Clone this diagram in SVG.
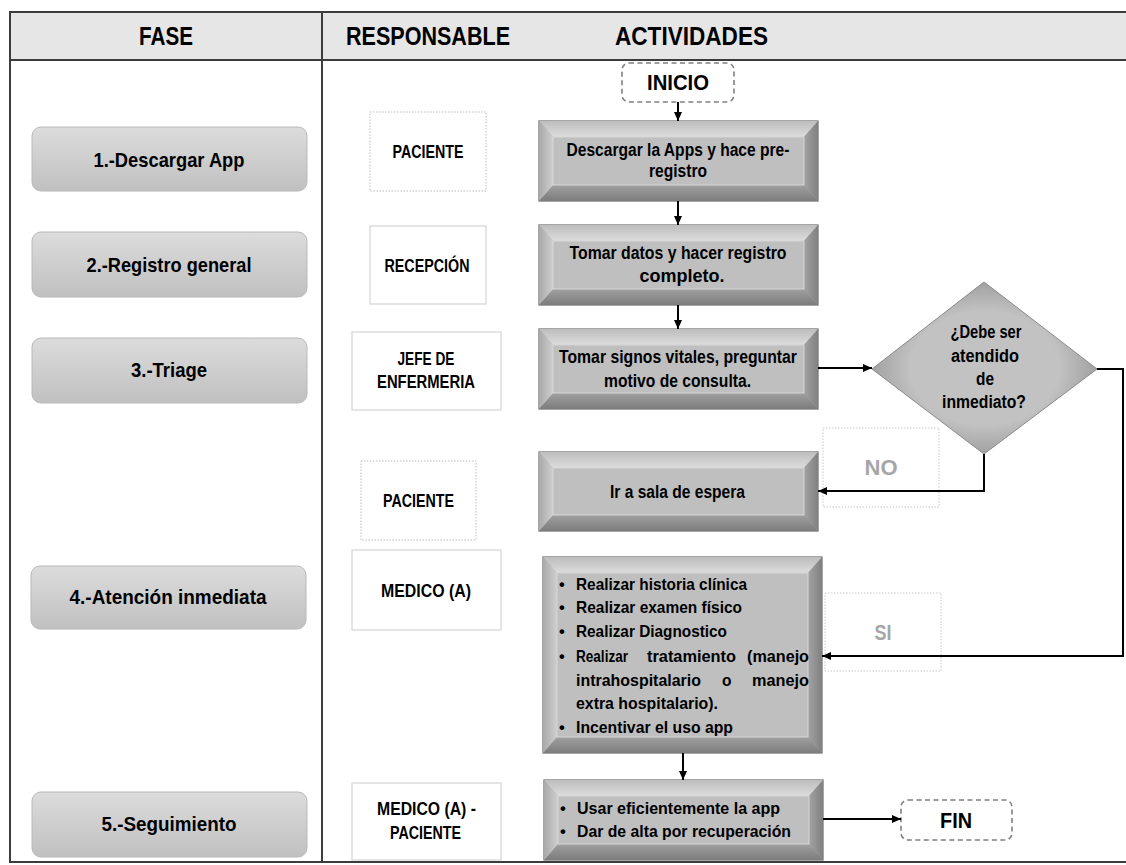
<svg xmlns="http://www.w3.org/2000/svg" width="1126" height="865" viewBox="0 0 1126 865">
<defs>
<linearGradient id="gPh" x1="0" y1="0" x2="0" y2="1"><stop offset="0" stop-color="#dcdcdc"/><stop offset="1" stop-color="#c0c0c0"/></linearGradient>
<linearGradient id="gTop" x1="0" y1="0" x2="0" y2="1"><stop offset="0" stop-color="#bdbdbd"/><stop offset="1" stop-color="#dcdcdc"/></linearGradient>
<linearGradient id="gBot" x1="0" y1="0" x2="0" y2="1"><stop offset="0" stop-color="#a0a0a0"/><stop offset="1" stop-color="#7c7c7c"/></linearGradient>
<linearGradient id="gLeft" x1="0" y1="0" x2="1" y2="0"><stop offset="0" stop-color="#a9a9a9"/><stop offset="1" stop-color="#cfcfcf"/></linearGradient>
<linearGradient id="gRight" x1="0" y1="0" x2="1" y2="0"><stop offset="0" stop-color="#a3a3a3"/><stop offset="1" stop-color="#808080"/></linearGradient>
<radialGradient id="gDia" cx="0.5" cy="0.5" r="0.6"><stop offset="0.55" stop-color="#c2c2c2"/><stop offset="1" stop-color="#8e8e8e"/></radialGradient>
<marker id="arr" markerWidth="10" markerHeight="10" refX="9" refY="5" orient="auto" markerUnits="userSpaceOnUse"><path d="M0,1 L9,5 L0,9 Z" fill="#000"/></marker>
</defs>
<style>
.t{font-family:"Liberation Sans",Arial,sans-serif;font-weight:bold;fill:#000;text-anchor:middle}
.tl{font-family:"Liberation Sans",Arial,sans-serif;font-weight:bold;fill:#000;font-size:16.5px}
.hdr{font-size:25px}
.ph{font-size:21px}
.rs{font-size:18px}
.ac{font-size:17.5px}
.big{font-size:22px}
.lbl{font-size:22px;fill:#a6a6a6}
.frame{stroke:#3c3c3c;stroke-width:2;fill:none}
.phbox{fill:url(#gPh);stroke:#b8b8b8;stroke-width:1}
.rbox{fill:#fff;stroke:#d4d4d4;stroke-width:1.2}
.rdot{fill:#fff;stroke:#bdbdbd;stroke-width:1;stroke-dasharray:1.5,1.5}
.lbox{fill:none;stroke:#c8c8c8;stroke-width:1;stroke-dasharray:1.5,1.5}
.term{fill:#fff;stroke:#808080;stroke-width:1.6;stroke-dasharray:5,3.5}
.outer{fill:#a8a8a8;stroke:#6a6a6a;stroke-width:1.2}
.bt{fill:url(#gTop)}
.bb{fill:url(#gBot)}
.bl{fill:url(#gLeft)}
.br{fill:url(#gRight)}
.face{fill:#bfbfbf;stroke:#d6d6d6;stroke-width:1}
.con{fill:none;stroke:#000;stroke-width:2}
</style>
<rect width="1126" height="865" fill="#fff"/>
<g id="table">
<rect x="10" y="12" width="1116" height="48" fill="#e6e6e6"/>
<line class="frame" x1="10" y1="12" x2="1126" y2="12"/>
<line class="frame" x1="10" y1="60" x2="1126" y2="60"/>
<line class="frame" x1="10" y1="862" x2="1126" y2="862"/>
<line class="frame" x1="10" y1="11" x2="10" y2="863"/>
<line class="frame" x1="322" y1="12" x2="322" y2="862"/>
<text class="t hdr" x="166" y="45" textLength="54" lengthAdjust="spacingAndGlyphs">FASE</text>
<text class="t hdr" x="428" y="45" textLength="164" lengthAdjust="spacingAndGlyphs">RESPONSABLE</text>
<text class="t hdr" x="691.5" y="45" textLength="153" lengthAdjust="spacingAndGlyphs">ACTIVIDADES</text>
</g>
<g id="fase1"><rect class="phbox" x="32" y="127" width="275" height="64" rx="9"/><text class="t ph" x="169" y="167" textLength="151" lengthAdjust="spacingAndGlyphs">1.-Descargar App</text></g>
<g id="fase2"><rect class="phbox" x="32" y="232" width="275" height="65" rx="9"/><text class="t ph" x="169" y="272" textLength="165" lengthAdjust="spacingAndGlyphs">2.-Registro general</text></g>
<g id="fase3"><rect class="phbox" x="32" y="338" width="275" height="65" rx="9"/><text class="t ph" x="169" y="377" textLength="76" lengthAdjust="spacingAndGlyphs">3.-Triage</text></g>
<g id="fase4"><rect class="phbox" x="31" y="566" width="275" height="63" rx="9"/><text class="t ph" x="168" y="604" textLength="197" lengthAdjust="spacingAndGlyphs">4.-Atención inmediata</text></g>
<g id="fase5"><rect class="phbox" x="32" y="792" width="275" height="65" rx="9"/><text class="t ph" x="169" y="831" textLength="135" lengthAdjust="spacingAndGlyphs">5.-Seguimiento</text></g>
<g id="resp1"><rect class="rdot" x="370" y="112" width="116" height="79"/><text class="t rs" x="428" y="158" textLength="71" lengthAdjust="spacingAndGlyphs">PACIENTE</text></g>
<g id="resp2"><rect class="rbox" x="370" y="226" width="116" height="78"/><text class="t rs" x="427" y="272" textLength="85" lengthAdjust="spacingAndGlyphs">RECEPCIÓN</text></g>
<g id="resp3"><rect class="rbox" x="352" y="332" width="149" height="78"/><text class="t rs" x="426" y="365" textLength="57" lengthAdjust="spacingAndGlyphs">JEFE DE</text><text class="t rs" x="426" y="388" textLength="98" lengthAdjust="spacingAndGlyphs">ENFERMERIA</text></g>
<g id="resp4"><rect class="rdot" x="361" y="461" width="115" height="79"/><text class="t rs" x="418.5" y="507" textLength="71" lengthAdjust="spacingAndGlyphs">PACIENTE</text></g>
<g id="resp5"><rect class="rbox" x="352" y="550" width="149" height="80"/><text class="t rs" x="426" y="597" textLength="90" lengthAdjust="spacingAndGlyphs">MEDICO (A)</text></g>
<g id="resp6"><rect class="rbox" x="352" y="783" width="149" height="77"/><text class="t rs" x="426.5" y="815" textLength="99" lengthAdjust="spacingAndGlyphs">MEDICO (A) -</text><text class="t rs" x="425.5" y="839" textLength="71" lengthAdjust="spacingAndGlyphs">PACIENTE</text></g>
<g id="inicio"><rect class="term" x="622" y="63" width="112" height="39" rx="7"/><text class="t big" x="678" y="90" textLength="62" lengthAdjust="spacingAndGlyphs">INICIO</text></g>
<g id="act1">
<rect class="outer" x="539" y="121" width="279" height="80"/>
<polygon class="bt" points="539,121 818,121 804,137 553,137"/>
<polygon class="bb" points="539,201 818,201 804,185 553,185"/>
<polygon class="bl" points="539,121 553,137 553,185 539,201"/>
<polygon class="br" points="818,121 804,137 804,185 818,201"/>
<rect class="face" x="553" y="137" width="251" height="48"/>
<text class="t ac" x="678" y="156" textLength="223" lengthAdjust="spacingAndGlyphs">Descargar la Apps y hace pre-</text>
<text class="t ac" x="678" y="177" textLength="58" lengthAdjust="spacingAndGlyphs">registro</text>
</g>
<g id="act2">
<rect class="outer" x="539" y="225" width="279" height="80"/>
<polygon class="bt" points="539,225 818,225 804,241 553,241"/>
<polygon class="bb" points="539,305 818,305 804,289 553,289"/>
<polygon class="bl" points="539,225 553,241 553,289 539,305"/>
<polygon class="br" points="818,225 804,241 804,289 818,305"/>
<rect class="face" x="553" y="241" width="251" height="48"/>
<text class="t ac" x="678" y="259" textLength="217" lengthAdjust="spacingAndGlyphs">Tomar datos y hacer registro</text>
<text class="t ac" x="682" y="282" textLength="85" lengthAdjust="spacingAndGlyphs">completo.</text>
</g>
<g id="act3">
<rect class="outer" x="539" y="329" width="279" height="80"/>
<polygon class="bt" points="539,329 818,329 804,345 553,345"/>
<polygon class="bb" points="539,409 818,409 804,393 553,393"/>
<polygon class="bl" points="539,329 553,345 553,393 539,409"/>
<polygon class="br" points="818,329 804,345 804,393 818,409"/>
<rect class="face" x="553" y="345" width="251" height="48"/>
<text class="t ac" x="678" y="363" textLength="238" lengthAdjust="spacingAndGlyphs">Tomar signos vitales, preguntar</text>
<text class="t ac" x="677.5" y="387" textLength="147" lengthAdjust="spacingAndGlyphs">motivo de consulta.</text>
</g>
<g id="decision">
<polygon points="984,282 1097,369 984,454 872,369" fill="url(#gDia)" stroke="#8a8a8a" stroke-width="1"/>
<text class="t ac" x="986" y="338" textLength="71" lengthAdjust="spacingAndGlyphs">¿Debe ser</text>
<text class="t ac" x="985" y="362" textLength="68" lengthAdjust="spacingAndGlyphs">atendido</text>
<text class="t ac" x="985" y="385" textLength="18" lengthAdjust="spacingAndGlyphs">de</text>
<text class="t ac" x="984" y="408" textLength="84" lengthAdjust="spacingAndGlyphs">inmediato?</text>
</g>
<g id="act4">
<rect class="outer" x="539" y="452" width="279" height="79"/>
<polygon class="bt" points="539,452 818,452 804,468 553,468"/>
<polygon class="bb" points="539,531 818,531 804,515 553,515"/>
<polygon class="bl" points="539,452 553,468 553,515 539,531"/>
<polygon class="br" points="818,452 804,468 804,515 818,531"/>
<rect class="face" x="553" y="468" width="251" height="47"/>
<text class="t ac" x="677.5" y="498" textLength="135" lengthAdjust="spacingAndGlyphs">Ir a sala de espera</text>
</g>
<g id="lblNO"><rect class="lbox" x="823" y="428" width="116" height="79"/><text class="t lbl" x="881" y="475" textLength="33" lengthAdjust="spacingAndGlyphs">NO</text></g>
<g id="act5">
<rect class="outer" x="543" y="557" width="279" height="196"/>
<polygon class="bt" points="543,557 822,557 808,573 557,573"/>
<polygon class="bb" points="543,753 822,753 808,737 557,737"/>
<polygon class="bl" points="543,557 557,573 557,737 543,753"/>
<polygon class="br" points="822,557 808,573 808,737 822,753"/>
<rect class="face" x="557" y="573" width="251" height="164"/>
<text class="tl" x="559" y="590">•</text><text class="tl" x="576" y="590" textLength="171" lengthAdjust="spacingAndGlyphs">Realizar historia clínica</text>
<text class="tl" x="559" y="613">•</text><text class="tl" x="576" y="613" textLength="166" lengthAdjust="spacingAndGlyphs">Realizar examen físico</text>
<text class="tl" x="559" y="637">•</text><text class="tl" x="576" y="637" textLength="151" lengthAdjust="spacingAndGlyphs">Realizar Diagnostico</text>
<text class="tl" x="559" y="662">•</text>
<text class="tl" x="576" y="662" textLength="52" lengthAdjust="spacingAndGlyphs">Realizar</text>
<text class="tl" x="647" y="662" textLength="89" lengthAdjust="spacingAndGlyphs">tratamiento</text>
<text class="tl" x="747" y="662" textLength="62" lengthAdjust="spacingAndGlyphs">(manejo</text>
<text class="tl" x="576" y="686" textLength="125" lengthAdjust="spacingAndGlyphs">intrahospitalario</text>
<text class="tl" x="722" y="686" textLength="9.5" lengthAdjust="spacingAndGlyphs">o</text>
<text class="tl" x="752" y="686" textLength="57" lengthAdjust="spacingAndGlyphs">manejo</text>
<text class="tl" x="576" y="709" textLength="142" lengthAdjust="spacingAndGlyphs">extra hospitalario).</text>
<text class="tl" x="559" y="733">•</text><text class="tl" x="576" y="733" textLength="157" lengthAdjust="spacingAndGlyphs">Incentivar el uso app</text>
</g>
<g id="lblSI"><rect class="lbox" x="825" y="593" width="116" height="78"/><text class="t lbl" x="883" y="640" textLength="17" lengthAdjust="spacingAndGlyphs">SI</text></g>
<g id="act6">
<rect class="outer" x="544" y="780" width="279" height="80"/>
<polygon class="bt" points="544,780 823,780 809,796 558,796"/>
<polygon class="bb" points="544,860 823,860 809,844 558,844"/>
<polygon class="bl" points="544,780 558,796 558,844 544,860"/>
<polygon class="br" points="823,780 809,796 809,844 823,860"/>
<rect class="face" x="558" y="796" width="251" height="48"/>
<text class="tl" x="560" y="814">•</text><text class="tl" x="577" y="814" textLength="203" lengthAdjust="spacingAndGlyphs">Usar eficientemente la app</text>
<text class="tl" x="560" y="837">•</text><text class="tl" x="577" y="837" textLength="214" lengthAdjust="spacingAndGlyphs">Dar de alta por recuperación</text>
</g>
<g id="fin"><rect class="term" x="901" y="800" width="111" height="40" rx="7"/><text class="t big" x="956" y="828" textLength="32" lengthAdjust="spacingAndGlyphs">FIN</text></g>
<g id="connectors">
<path class="con" d="M678,102 V121" marker-end="url(#arr)"/>
<path class="con" d="M678,201 V225" marker-end="url(#arr)"/>
<path class="con" d="M678,305 V329" marker-end="url(#arr)"/>
<path class="con" d="M818,368 H872" marker-end="url(#arr)"/>
<path class="con" d="M984,454 V491 H818" marker-end="url(#arr)"/>
<path class="con" d="M1097,369 H1123 V656 H822" marker-end="url(#arr)"/>
<path class="con" d="M683,753 V780" marker-end="url(#arr)"/>
<path class="con" d="M823,819 H901" marker-end="url(#arr)"/>
</g>
</svg>
